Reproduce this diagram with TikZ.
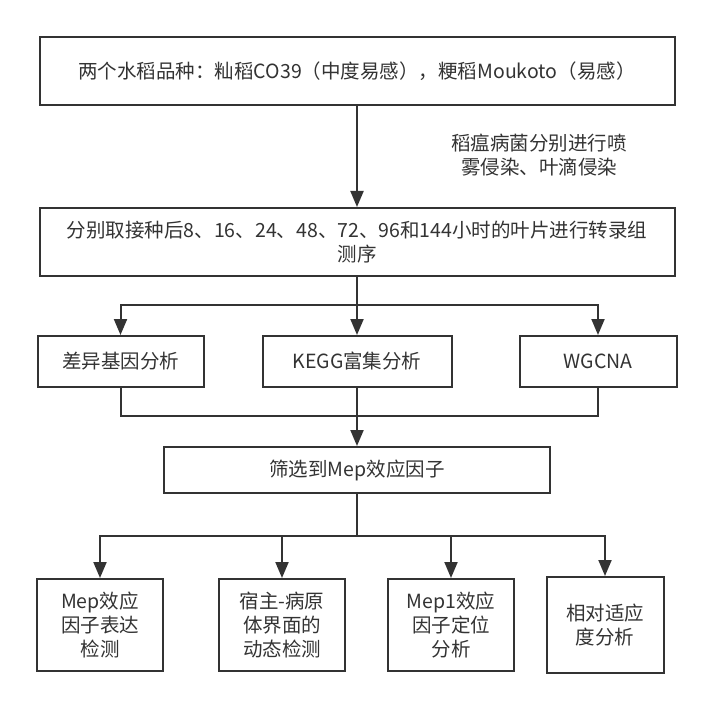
\documentclass[tikz,border=0pt]{standalone}
\usepackage{fontspec}
\setmainfont{Noto Sans CJK SC}
\usetikzlibrary{arrows.meta}
\definecolor{ink}{HTML}{333333}
\tikzset{
  box/.style={draw=ink, line width=2pt, fill=white, inner sep=0pt, align=center,
    text=ink, font=\fontsize{19.5}{24}\selectfont},
  conn/.style={draw=ink, line width=2pt},
  arr/.style={conn, -{Triangle[length=16pt,width=13pt]}},
  lbl/.style={align=center, text=ink, font=\fontsize{19.5}{24}\selectfont, inner sep=0pt}
}
\begin{document}
\begin{tikzpicture}[x=1pt,y=-1pt]
\useasboundingbox[fill=white] (0,0) rectangle (711,711);

\node[box, minimum width=635pt, minimum height=68pt] (top) at (357,71)
  {两个水稻品种：籼稻CO39（中度易感），粳稻Moukoto（易感）};
\node[box, minimum width=635pt, minimum height=68pt] (seq) at (357,242)
  {分别取接种后8、16、24、48、72、96和144小时的叶片进行转录组\\测序};
\node[lbl] (inf) at (539,155) {稻瘟病菌分别进行喷\\雾侵染、叶滴侵染};

\node[box, minimum width=166pt, minimum height=51pt] (ra) at (120.5,361.5) {差异基因分析};
\node[box, minimum width=189pt, minimum height=51pt] (rb) at (357,361.5) {KEGG富集分析};
\node[box, minimum width=157pt, minimum height=51pt] (rc) at (598,361.5) {WGCNA};

\node[box, minimum width=386pt, minimum height=46pt] (mep) at (357,470) {筛选到Mep效应因子};

\node[box, minimum width=126pt, minimum height=92pt] (b1) at (100,625) {Mep效应\\因子表达\\检测};
\node[box, minimum width=126pt, minimum height=92pt] (b2) at (282,625) {宿主-病原\\体界面的\\动态检测};
\node[box, minimum width=126pt, minimum height=92pt] (b3) at (451,625) {Mep1效应\\因子定位\\分析};
\node[box, minimum width=117pt, minimum height=96pt] (b4) at (605,625) {相对适应\\度分析};

\coordinate (s1) at (357,305);
\coordinate (j1) at (357,416);
\coordinate (s2) at (357,536);

\draw[arr] (top) -- (seq);
\draw[conn] (seq) -- (s1);
\draw[arr] (s1) -| (ra);
\draw[arr] (s1) -- (rb);
\draw[arr] (s1) -| (rc);
\draw[conn] (ra) |- (j1);
\draw[conn] (rc) |- (j1);
\draw[arr] (rb) -- (mep);
\draw[conn] (mep) -- (s2);
\draw[arr] (s2) -| (b1);
\draw[arr] (s2) -| (b2);
\draw[arr] (s2) -| (b3);
\draw[arr] (s2) -| (b4);
\end{tikzpicture}
\end{document}
